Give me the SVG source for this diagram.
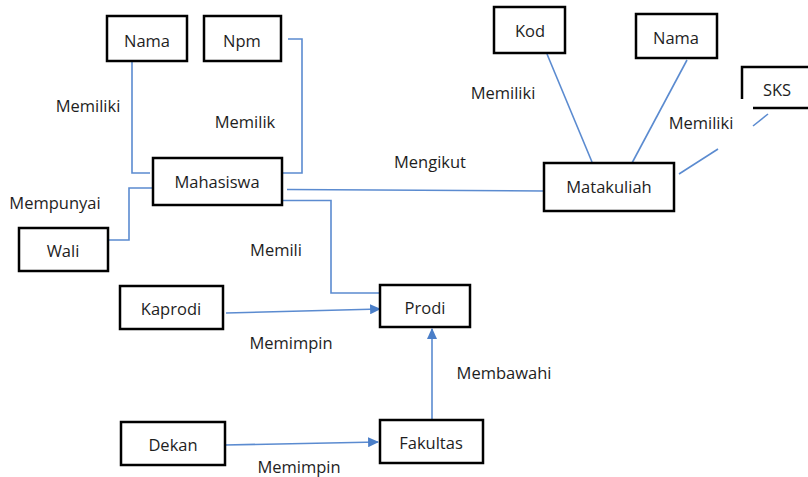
<svg xmlns="http://www.w3.org/2000/svg" width="808" height="477" viewBox="0 0 808 477">
  <defs>
    <style>
      .box { fill: #ffffff; stroke: #000000; stroke-width: 2.5; }
      .lbl { font-family: "Open Sans", "Noto Sans", sans-serif; font-size: 16.5px; fill: #1e1e1e; text-anchor: middle; dominant-baseline: central; }
      .con { fill: none; stroke: #5b8bd0; stroke-width: 1.6; }
    </style>
    <marker id="arrow" viewBox="0 0 10 10" refX="9" refY="5" markerWidth="11" markerHeight="10" markerUnits="userSpaceOnUse" orient="auto" preserveAspectRatio="none">
      <path d="M0,0 L10,5 L0,10 Z" fill="#4a7ec8"/>
    </marker>
  </defs>
  <rect width="808" height="477" fill="#ffffff"/>

  <!-- connectors -->
  <g id="connectors">
    <polyline class="con" points="113,61 132,61 132,173 150,173"/>
    <polyline class="con" points="288,39 302,39 302,173 283,173"/>
    <polyline class="con" points="108,240 129,240 129,188 152,188"/>
    <line class="con" x1="287" y1="189.5" x2="544" y2="191"/>
    <polyline class="con" points="282,200.5 331,200.5 331,293 380,293"/>
    <line class="con" x1="547" y1="54" x2="592" y2="162"/>
    <line class="con" x1="687" y1="60" x2="632" y2="163"/>
    <line class="con" x1="679" y1="174" x2="718" y2="149"/>
    <line class="con" x1="753" y1="126" x2="768" y2="114"/>
    <line class="con" x1="226" y1="313" x2="380" y2="309" marker-end="url(#arrow)" stroke-width="1.8"/>
    <line class="con" x1="225" y1="445" x2="378" y2="442" marker-end="url(#arrow)" stroke-width="1.8"/>
    <line class="con" x1="432" y1="419" x2="432" y2="329" marker-end="url(#arrow)" stroke-width="1.8"/>
  </g>

  <!-- relationship labels -->
  <g id="labels">
    <text class="lbl" x="88" y="105">Memiliki</text>
    <text class="lbl" x="245" y="121">Memilik</text>
    <text class="lbl" x="55" y="202">Mempunyai</text>
    <text class="lbl" x="276" y="249">Memili</text>
    <text class="lbl" x="430" y="161">Mengikut</text>
    <text class="lbl" x="503" y="92">Memiliki</text>
    <text class="lbl" x="701" y="122">Memiliki</text>
    <text class="lbl" x="291" y="342">Memimpin</text>
    <text class="lbl" x="504" y="372">Membawahi</text>
    <text class="lbl" x="299" y="466">Memimpin</text>
  </g>

  <!-- entities -->
  <g id="nama-mhs">
    <rect class="box" x="107" y="16" width="80" height="45"/>
    <text class="lbl" x="147" y="40">Nama</text>
  </g>
  <g id="npm">
    <rect class="box" x="204" y="16" width="77" height="45"/>
    <text class="lbl" x="242" y="40">Npm</text>
  </g>
  <g id="mahasiswa">
    <rect class="box" x="153" y="158" width="129" height="47"/>
    <text class="lbl" x="217" y="181">Mahasiswa</text>
  </g>
  <g id="wali">
    <rect class="box" x="19" y="228" width="89" height="43"/>
    <text class="lbl" x="63" y="250">Wali</text>
  </g>
  <g id="kod">
    <rect class="box" x="494" y="7" width="71" height="46"/>
    <text class="lbl" x="530" y="30">Kod</text>
  </g>
  <g id="nama-mk">
    <rect class="box" x="636" y="14" width="81" height="44"/>
    <text class="lbl" x="676" y="37">Nama</text>
  </g>
  <g id="sks">
    <path class="box" fill="none" d="M742,99 V67 H810"/>
    <line x1="753" y1="108" x2="810" y2="108" stroke="#000000" stroke-width="2.5"/>
    <text class="lbl" x="777" y="89">SKS</text>
  </g>
  <g id="matakuliah">
    <rect class="box" x="544" y="163" width="130" height="48"/>
    <text class="lbl" x="609" y="186">Matakuliah</text>
  </g>
  <g id="prodi">
    <rect class="box" x="380" y="285" width="90" height="42"/>
    <text class="lbl" x="425" y="307">Prodi</text>
  </g>
  <g id="kaprodi">
    <rect class="box" x="120" y="286" width="103" height="43"/>
    <text class="lbl" x="171" y="308">Kaprodi</text>
  </g>
  <g id="dekan">
    <rect class="box" x="121" y="422" width="104" height="43"/>
    <text class="lbl" x="173" y="444">Dekan</text>
  </g>
  <g id="fakultas">
    <rect class="box" x="380" y="420" width="103" height="43"/>
    <text class="lbl" x="431" y="442">Fakultas</text>
  </g>
</svg>
